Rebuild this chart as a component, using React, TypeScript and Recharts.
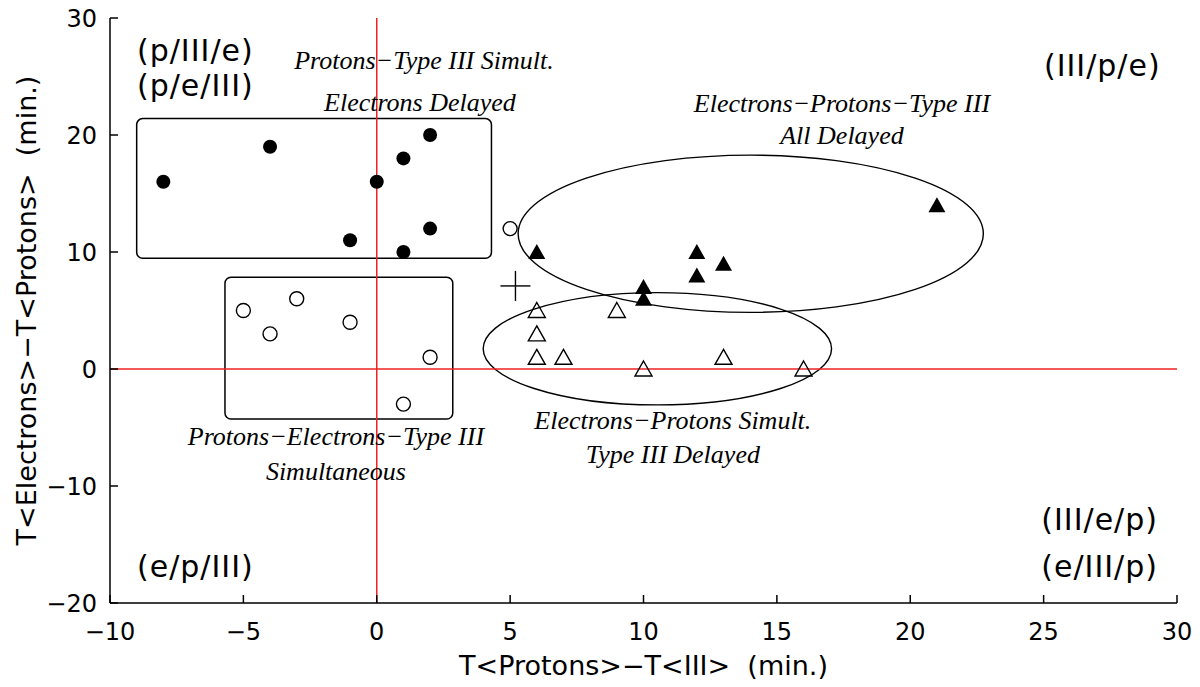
import React from 'react';
import {
  ScatterChart,
  Scatter,
  XAxis,
  YAxis,
  ReferenceLine,
  ReferenceArea,
  ReferenceDot,
} from 'recharts';

// T<Protons>-T<III> (x) vs T<Electrons>-T<Protons> (y), minutes
const filledCircleX = [-8, -4, -1, 0, 1, 1, 2, 2];
const filledCircleY = [16, 19, 11, 16, 18, 10, 20, 12];

const openCircleX = [-5, -4, -3, -1, 2, 1, 5];
const openCircleY = [5, 3, 6, 4, 1, -3, 12];

const filledTriX = [6, 12, 13, 12, 10, 10, 21];
const filledTriY = [10, 10, 9, 8, 7, 6, 14];

const openTriX = [6, 9, 6, 6, 7, 10, 13, 16];
const openTriY = [5, 5, 3, 1, 1, 0, 1, 0];

const plusX = [5.2];
const plusY = [7.1];

const xTicks = [-10, -5, 0, 5, 10, 15, 20, 25, 30];
const yTicks = [-20, -10, 0, 10, 20, 30];

// group outlines: [x1, x2, y1, y2]
const boxes = [
  [-9.0, 4.3, 9.46, 21.4],
  [-5.69, 2.85, -4.27, 7.84],
];
const ellipses = [
  [5.3, 22.74, 4.84, 18.28],
  [3.99, 17.05, -3.07, 6.53],
];

// quadrant order labels
const orderText = ['(p/III/e)', '(p/e/III)', '(III/p/e)', '(III/e/p)', '(e/III/p)', '(e/p/III)'];
const orderX = [-6.8, -6.8, 27.2, 27.1, 27.1, -6.8];
const orderY = [27.26, 24.27, 25.9, -12.9, -16.9, -16.9];

// group notes
const noteText = [
  'Protons\u2212Type III Simult.',
  'Electrons Delayed',
  'Electrons\u2212Protons\u2212Type III',
  'All Delayed',
  'Protons\u2212Electrons\u2212Type III',
  'Simultaneous',
  'Electrons\u2212Protons Simult.',
  'Type III Delayed',
];
const noteX = [1.77, 1.62, 17.44, 17.44, -1.53, -1.53, 11.1, 11.1];
const noteY = [26.4, 22.8, 22.7, 20.0, -5.73, -8.8, -4.44, -7.35];

const toPts = (xs: number[], ys: number[]) => xs.map((x, i) => ({ x, y: ys[i] }));

const sans = '"DejaVu Sans", sans-serif';
const script = '"Liberation Serif", serif';
const fmt = (v: number) => String(v).replace('-', '\u2212');

const FilledCircle = (p: any) => <circle cx={p.cx} cy={p.cy} r={7} fill="#000" />;
const OpenCircle = (p: any) => (
  <circle cx={p.cx} cy={p.cy} r={7} fill="none" stroke="#000" strokeWidth={1.4} />
);
const tri = (cx: number, cy: number) =>
  `${cx},${cy - 8} ${cx + 8.5},${cy + 7} ${cx - 8.5},${cy + 7}`;
const FilledTri = (p: any) => <polygon points={tri(p.cx, p.cy)} fill="#000" />;
const OpenTri = (p: any) => (
  <polygon points={tri(p.cx, p.cy)} fill="none" stroke="#000" strokeWidth={1.4} />
);
const Plus = (p: any) => (
  <g stroke="#000" strokeWidth={1.4}>
    <line x1={p.cx - 15} x2={p.cx + 15} y1={p.cy} y2={p.cy} />
    <line x1={p.cx} x2={p.cx} y1={p.cy - 15} y2={p.cy + 15} />
  </g>
);

export default function App() {
  const axisStroke = { stroke: '#000', strokeWidth: 1.5 };
  return (
    <div style={{ position: 'absolute', left: 0, top: 0, width: 1200, height: 687, background: '#fff' }}>
      <ScatterChart width={1200} height={687} margin={{ top: 18, right: 23, bottom: 0, left: 0 }}>
        <XAxis
          type="number"
          dataKey="x"
          domain={[-10, 30]}
          ticks={xTicks}
          tickFormatter={fmt}
          height={84}
          tickSize={-8}
          tickMargin={28}
          axisLine={axisStroke}
          tickLine={axisStroke}
          tick={{ fill: '#000', fontSize: 24, fontFamily: sans }}
          label={{
            value: 'T<Protons>\u2212T<III>\u00a0\u00a0(min.)',
            position: 'insideBottom',
            offset: 12,
            style: { fill: '#000', fontSize: 27, fontFamily: sans },
          }}
        />
        <XAxis
          xAxisId="top"
          orientation="top"
          type="number"
          domain={[-10, 30]}
          ticks={xTicks}
          tickFormatter={() => ''}
          height={0}
          tickSize={-8}
          axisLine={axisStroke}
          tickLine={axisStroke}
        />
        <YAxis
          type="number"
          dataKey="y"
          domain={[-20, 30]}
          ticks={yTicks}
          tickFormatter={fmt}
          width={110}
          tickSize={-8}
          tickMargin={21}
          axisLine={axisStroke}
          tickLine={axisStroke}
          tick={{ fill: '#000', fontSize: 24, fontFamily: sans }}
          label={{
            value: 'T<Electrons>\u2212T<Protons>\u00a0\u00a0(min.)',
            angle: -90,
            position: 'insideLeft',
            offset: 26,
            style: { fill: '#000', fontSize: 27, fontFamily: sans, textAnchor: 'middle' },
          }}
        />
        <YAxis
          yAxisId="right"
          orientation="right"
          type="number"
          domain={[-20, 30]}
          ticks={yTicks}
          tickFormatter={() => ''}
          width={0}
          tickSize={-8}
          axisLine={axisStroke}
          tickLine={axisStroke}
        />

        <ReferenceLine x={0} stroke="#ee2222" strokeWidth={1.5} />
        <ReferenceLine y={0} stroke="#ee2222" strokeWidth={1.5} />

        {boxes.map(([x1, x2, y1, y2], i) => (
          <ReferenceArea
            key={`b${i}`}
            x1={x1}
            x2={x2}
            y1={y1}
            y2={y2}
            shape={(p: any) => (
              <rect
                x={p.x}
                y={p.y}
                width={p.width}
                height={p.height}
                rx={6}
                fill="none"
                stroke="#000"
                strokeWidth={1.5}
              />
            )}
          />
        ))}
        {ellipses.map(([x1, x2, y1, y2], i) => (
          <ReferenceArea
            key={`e${i}`}
            x1={x1}
            x2={x2}
            y1={y1}
            y2={y2}
            shape={(p: any) => (
              <ellipse
                cx={p.x + p.width / 2}
                cy={p.y + p.height / 2}
                rx={p.width / 2}
                ry={p.height / 2}
                fill="none"
                stroke="#000"
                strokeWidth={1.4}
              />
            )}
          />
        ))}

        {orderText.map((t, i) => (
          <ReferenceDot
            key={`o${i}`}
            x={orderX[i]}
            y={orderY[i]}
            r={0}
            shape={(p: any) => (
              <text
                x={p.cx}
                y={p.cy}
                textAnchor="middle"
                dominantBaseline="central"
                fontFamily={sans}
                fontSize={30}
                letterSpacing={1}
                fill="#000"
              >
                {t}
              </text>
            )}
          />
        ))}
        {noteText.map((t, i) => (
          <ReferenceDot
            key={`n${i}`}
            x={noteX[i]}
            y={noteY[i]}
            r={0}
            shape={(p: any) => (
              <text
                x={p.cx}
                y={p.cy}
                textAnchor="middle"
                dominantBaseline="central"
                fontFamily={script}
                fontStyle="italic"
                fontSize={26}
                fill="#000"
              >
                {t}
              </text>
            )}
          />
        ))}

        <Scatter data={toPts(filledCircleX, filledCircleY)} shape={FilledCircle} isAnimationActive={false} />
        <Scatter data={toPts(openCircleX, openCircleY)} shape={OpenCircle} isAnimationActive={false} />
        <Scatter data={toPts(filledTriX, filledTriY)} shape={FilledTri} isAnimationActive={false} />
        <Scatter data={toPts(openTriX, openTriY)} shape={OpenTri} isAnimationActive={false} />
        <Scatter data={toPts(plusX, plusY)} shape={Plus} isAnimationActive={false} />
      </ScatterChart>
    </div>
  );
}
